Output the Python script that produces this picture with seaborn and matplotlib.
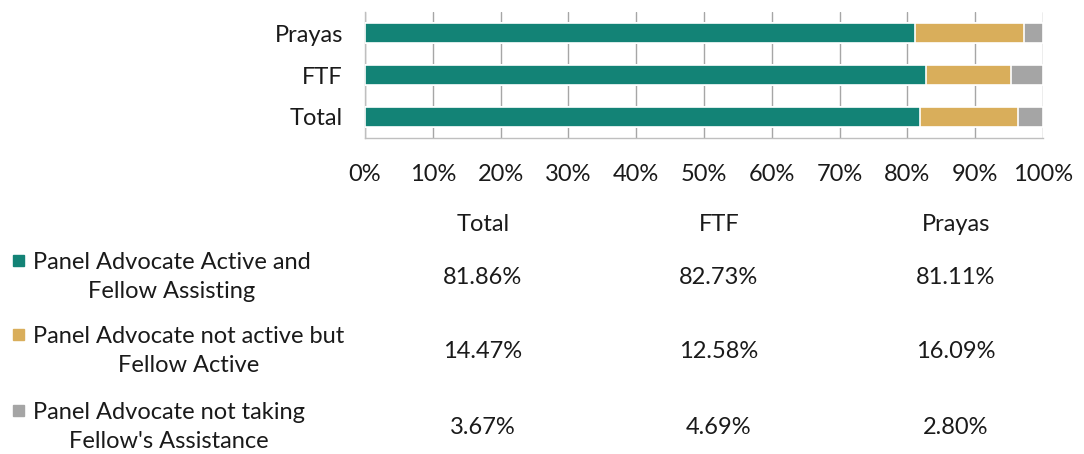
import numpy as np
import pandas as pd
import matplotlib.pyplot as plt
import seaborn as sns
from matplotlib.patches import Rectangle

groups = ['Prayas', 'FTF', 'Total']
table_cols = ['Total', 'FTF', 'Prayas']
series = ['Panel Advocate Active and\nFellow Assisting',
          'Panel Advocate not active but\nFellow Active',
          "Panel Advocate not taking\nFellow's Assistance"]
active = [81.11, 82.73, 81.86]
not_active = [16.09, 12.58, 14.47]
not_taking = [2.80, 4.69, 3.67]
colors = ['#138376', '#D9AE5B', '#A5A5A5']
x_ticks = [0, 10, 20, 30, 40, 50, 60, 70, 80, 90, 100]

sns.set_theme(style='white')
plt.rcParams['font.family'] = ['Lato', 'DejaVu Sans']
FS = 17

df = pd.DataFrame({'group': groups, 'a': active, 'b': not_active, 'c': not_taking})
df['ab'] = df['a'] + df['b']
df['abc'] = df['ab'] + df['c']

W, H = 1084, 454
fig = plt.figure(figsize=(W / 100, H / 100), dpi=100)
ax = fig.add_axes([365 / W, 1 - 138 / H, (1043 - 365) / W, 126 / H])

# stacked bars: draw cumulative totals back to front
for col, c in zip(['abc', 'ab', 'a'], colors[::-1]):
    sns.barplot(data=df, x=col, y='group', order=groups, color=c, width=0.48,
                saturation=1, edgecolor='white', linewidth=1.2, ax=ax, zorder=3)

ax.set_xlim(0, 100)
ax.set_xticks(x_ticks)
ax.set_xticklabels([f'{t}%' for t in x_ticks], fontsize=FS, color='#1a1a1a')
ax.tick_params(axis='x', pad=19, length=0)
ax.tick_params(axis='y', labelsize=FS, labelcolor='#1a1a1a', length=0, pad=16)
ax.set_xlabel('')
ax.set_ylabel('')
ax.grid(axis='x', color='#A6A6A6', linewidth=1, zorder=0)
for s in ['top', 'right']:
    ax.spines[s].set_visible(False)
for s in ['left', 'bottom']:
    ax.spines[s].set_color('#BFBFBF')
    ax.spines[s].set_linewidth(1)

# data table below the chart
col_x = [483, 719, 956]
row_y = [277, 351, 427]
for cx, name in zip(col_x, table_cols):
    fig.text(cx / W, 1 - 224 / H, name, ha='center', va='center', fontsize=FS, color='#1a1a1a')

vals_by_group = dict(zip(groups, zip(active, not_active, not_taking)))
for i, (label, ry) in enumerate(zip(series, row_y)):
    fig.patches.append(Rectangle((13 / W, 1 - (ry - 11) / H), 11 / W, 11 / H,
                                 transform=fig.transFigure, color=colors[i], figure=fig))
    fig.text(33 / W, 1 - ry / H, label, ha='left', va='center', multialignment='center',
             fontsize=FS, color='#1a1a1a', linespacing=1.45)
    for cx, name in zip(col_x, table_cols):
        fig.text(cx / W, 1 - ry / H, f'{vals_by_group[name][i]:.2f}%', ha='center',
                 va='center', fontsize=FS, color='#1a1a1a')

fig.savefig('out.png', dpi=100)
